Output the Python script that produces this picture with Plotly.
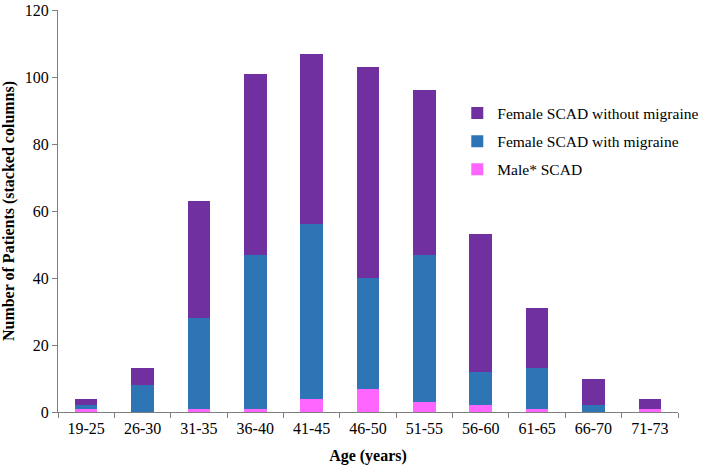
import plotly.graph_objects as go

age_groups = ["19-25", "26-30", "31-35", "36-40", "41-45", "46-50",
              "51-55", "56-60", "61-65", "66-70", "71-73"]
male_scad = [1, 0, 1, 1, 4, 7, 3, 2, 1, 0, 1]
female_with_migraine = [1, 8, 27, 46, 52, 33, 44, 10, 12, 2, 0]
female_without_migraine = [2, 5, 35, 54, 51, 63, 49, 41, 18, 8, 3]
y_ticks = [0, 20, 40, 60, 80, 100, 120]

FONT = "Liberation Serif, Times New Roman, serif"

fig = go.Figure()
fig.add_trace(go.Bar(x=age_groups, y=male_scad, name="Male* SCAD",
                     marker=dict(color="#FF66FF", line=dict(width=0)),
                     legendgroup="c", legendrank=3))
fig.add_trace(go.Bar(x=age_groups, y=female_with_migraine, name="Female SCAD with migraine",
                     marker=dict(color="#2E75B6", line=dict(width=0)),
                     legendgroup="b", legendrank=2))
fig.add_trace(go.Bar(x=age_groups, y=female_without_migraine, name="Female SCAD without migraine",
                     marker=dict(color="#7030A0", line=dict(width=0)),
                     legendgroup="a", legendrank=1))

fig.update_layout(
    width=709, height=465,
    barmode="stack", bargap=0.6,
    plot_bgcolor="white", paper_bgcolor="white",
    margin=dict(l=58, r=5, t=10, b=53),
    font=dict(family=FONT, size=16, color="black"),
    showlegend=True,
    legend=dict(x=0.644, y=0.785, xanchor="left", yanchor="top",
                traceorder="grouped", tracegroupgap=5,
                font=dict(family=FONT, size=15.5, color="black"),
                bgcolor="rgba(0,0,0,0)"),
    xaxis=dict(
        title=dict(text="<b>Age (years)</b>", font=dict(family=FONT, size=16)),
        automargin=False,
        showline=True, linecolor="#7f7f7f", linewidth=1,
        ticks="outside", tickcolor="#7f7f7f", ticklen=5, tickson="boundaries",
        ticklabelstandoff=2, ticklabeloverflow="allow",
        showgrid=False, tickfont=dict(family=FONT, size=16),
    ),
    yaxis=dict(
        title=dict(text="<b>Number of Patients (stacked columns)</b>", font=dict(family=FONT, size=16)),
        automargin=False,
        range=[0, 120], tickvals=y_ticks,
        showline=True, linecolor="#7f7f7f", linewidth=1,
        ticks="outside", tickcolor="#7f7f7f", ticklen=5,
        ticklabeloverflow="allow",
        showgrid=False, zeroline=False, tickfont=dict(family=FONT, size=16),
    ),
)

# remove the default 8px page margin so the figure fills the window exactly
fig.write_html("out.html", config={"displayModeBar": False},
               post_script="document.body.style.margin='0';")
